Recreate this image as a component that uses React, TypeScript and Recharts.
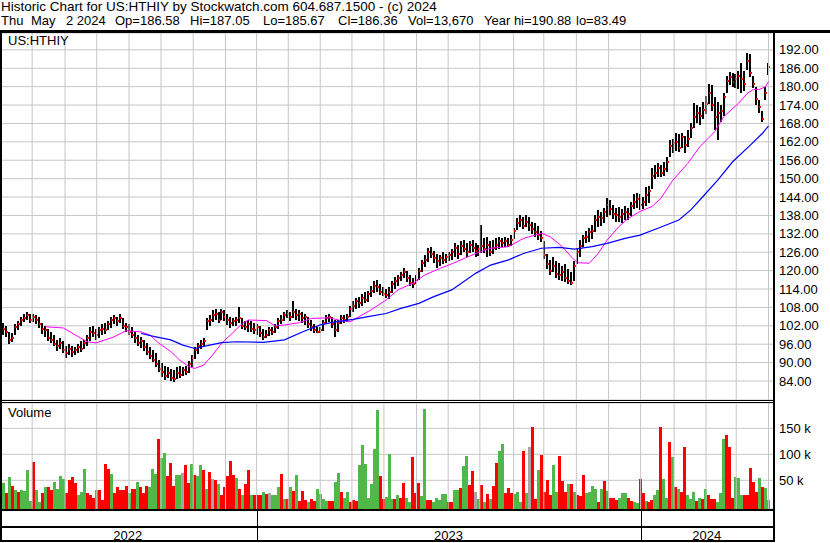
import { Bar, CartesianGrid, ComposedChart, Line, ReferenceLine, XAxis, YAxis } from "recharts";

// one bar per two sessions, May 2022 .. May 2 2024
const highs = [
  103, 102, 100, 99.5, 102.5, 103.5, 105, 106, 106.5, 106,
  106, 105.5, 105, 103, 102, 101, 100, 99, 97.5, 98,
  97, 95.5, 96, 95.5, 95, 96, 97, 97.5, 99, 101.5,
  102, 101, 101.5, 102.5, 103, 103.5, 105, 105.5, 105, 106,
  104.5, 103, 102.5, 101.5, 100, 99, 98.5, 97.5, 96.5, 95,
  94, 93, 91, 90, 89, 88.5, 88, 87.5, 88.5, 89,
  88.5, 89, 90.5, 92.5, 95, 96.5, 97.5, 98, 104.5, 105.5,
  107, 107.5, 106.5, 107.5, 107, 106, 105, 104.5, 105, 108.2,
  104.5, 103.5, 104, 103.5, 103, 102.5, 102, 101, 100.5, 101.5,
  101.5, 102.5, 104.5, 105.5, 106.5, 107, 106.5, 110, 107.5, 107,
  106.5, 106, 105, 104, 102.5, 101.5, 101.5, 104, 105.5, 106,
  105, 104, 104, 105.5, 105.5, 106, 108.5, 110, 111, 111.5,
  112.5, 113, 113.5, 115, 116.5, 117, 115.5, 114.5, 114, 114.5,
  116.5, 118, 118.5, 119.5, 120.8, 120, 118.5, 117.5, 118.5, 121,
  123.5, 125, 127.5, 127.7, 126.5, 125.5, 125, 126, 125.5, 126,
  127, 129, 128.5, 129.5, 130, 129, 129.5, 130, 129, 128.5,
  135, 130.5, 131, 129.5, 130, 130.5, 131, 130.5, 131, 130.5,
  131.5, 134, 137, 138, 137.5, 138, 137.5, 136, 135.5, 134.5,
  133, 129.5, 125.5, 123.5, 124.4, 123, 122.5, 121.5, 122, 120.5,
  119.5, 123, 127, 130, 131.5, 133, 134, 135, 138, 139.7,
  139, 140.5, 143.7, 143, 141.5, 140.5, 140.7, 140, 141, 140.5,
  142.5, 145, 145.3, 145, 144, 147.3, 147.5, 153.5, 154.5, 155,
  154.5, 155.5, 157, 162.5, 163, 165, 164.5, 165, 164, 166,
  168, 174.6, 174, 173.5, 175, 177, 181, 180.5, 176.6, 175,
  174, 178, 183.5, 184.8, 184.5, 184, 185, 187.7, 185, 190.9,
  190.5, 183.5, 180, 175.6, 172, 180, 187.7,
];

const lows = [
  99, 98.5, 96, 96.5, 99, 100.5, 102, 103.5, 104, 103,
  103.5, 102.5, 101.5, 99.5, 98.5, 97, 96.5, 95.5, 94, 94.5,
  93, 91.5, 92.5, 92, 92.5, 93, 93.5, 94.5, 95.5, 97,
  98.5, 97.5, 98, 99, 99.5, 100.5, 101.5, 102.5, 102, 103,
  101, 100, 99, 98, 96.5, 95.5, 95, 94, 92.5, 91,
  90, 88.5, 87, 85.5, 84.5, 85, 84, 83.5, 84.5, 85,
  85.5, 86, 86.5, 88.5, 91, 93, 94.5, 95, 100.5, 102,
  103, 104, 103, 104, 103.5, 102.5, 101.5, 102, 102, 103,
  101, 100.5, 100, 100, 99.5, 99, 98.5, 97.5, 98, 98.5,
  99, 99.5, 101, 102.5, 103.5, 104.5, 103.5, 104.5, 104, 103.5,
  103, 102.5, 101.5, 100.5, 99.5, 99.5, 99.5, 100.5, 102.5, 103.5,
  101.5, 98.4, 100, 102.5, 103, 103.5, 105, 106.5, 107.5, 108,
  108.5, 109.5, 110, 111.5, 112.5, 113, 112, 111.5, 111, 110.5,
  112.5, 114, 115, 116.5, 117.5, 116.5, 115, 114.3, 115.5, 117,
  119.5, 121, 123, 124, 122.5, 121, 121.5, 122, 122.5, 123,
  123.5, 124.5, 124, 125, 126, 124.5, 125.5, 126, 124.5, 125,
  126, 125.5, 124.5, 124.5, 125.5, 126.5, 127, 127.5, 127.7, 127.5,
  128, 130.5, 133, 134, 133.5, 134, 133, 132, 131, 130,
  129.5, 123.5, 120.5, 118.5, 119.5, 117.5, 117, 116.5, 116, 115.5,
  115.3, 116.5, 122, 124.5, 127.5, 129, 129.5, 130.5, 132.5, 134,
  134.5, 135.5, 137.5, 138, 137, 136, 135.8, 135.5, 136.5, 136.5,
  138, 140, 140.5, 139.7, 140, 141, 142, 146.5, 150, 150.5,
  150.5, 151, 152, 157, 158.3, 159, 158.6, 160, 158.6, 160.5,
  163, 166.5, 168, 167.5, 169.5, 171, 174.6, 172, 165.8, 162.6,
  168.5, 170.5, 178, 180.5, 180, 179.5, 179, 177.9, 178.5, 185.5,
  183, 179.5, 174, 171.4, 168.5, 175.6, 183.8,
];

const closes = [
  101, 100, 97.5, 98, 101.5, 102.5, 104, 104.5, 105.5, 104,
  105, 104, 102.5, 101, 100.5, 98, 97.5, 96, 95.5, 96.5,
  94, 93, 94.5, 93.5, 94, 95, 94.5, 96.5, 98, 100,
  99.5, 99, 100.5, 101, 100.5, 102.5, 104, 104.5, 103.5, 104.5,
  102, 101.5, 100, 99, 98, 96.5, 97, 95, 93.5, 92,
  91, 89.5, 88, 87, 85.5, 86.5, 85, 84.5, 86.5, 86,
  87.5, 87, 89.5, 91.5, 94, 95.5, 96, 97, 103.5, 104,
  105.5, 106, 104, 106.5, 105, 104, 103, 103.5, 104, 104.5,
  102, 101.5, 102.5, 101, 100.5, 101.5, 99.5, 98.5, 99, 100.5,
  100, 101.5, 103.5, 104, 105.5, 106, 105, 106.5, 105.5, 106,
  104.5, 105, 102.5, 101.5, 100.5, 100, 100.5, 103, 104.5, 105,
  102.5, 100.5, 103, 104.5, 104, 105, 107.5, 108.5, 110, 109.5,
  111, 110.5, 112.5, 113.5, 115, 114.5, 113, 112.5, 112, 113,
  115.5, 116.5, 117.5, 118.5, 119.5, 117.5, 116, 115.5, 117, 120,
  122.5, 123.5, 126, 125.5, 124, 123, 124, 123.5, 124.5, 125,
  126, 127.5, 125.5, 128, 127, 126, 128.5, 127.5, 126.5, 127,
  128, 127, 128.5, 126, 127.5, 128.5, 129.5, 129, 129.5, 128.5,
  130, 133, 135.5, 136.5, 134.5, 136, 135, 133.5, 132.5, 131.5,
  130.5, 125, 122, 120, 121.5, 119, 118.5, 119.5, 117.5, 116.5,
  116, 121.5, 126, 128, 130.5, 131, 132.5, 133, 136.5, 137.5,
  137, 139, 141.5, 140, 138.5, 138, 137.5, 138.5, 139, 138.5,
  141, 142.5, 143.5, 141.5, 142.5, 144.5, 146, 151, 152, 153.5,
  152, 153, 155.5, 160.5, 161.5, 162, 160, 163.5, 161, 163,
  166.5, 170, 171.5, 170.5, 172.5, 174.5, 178, 174, 170, 171.5,
  172, 176.5, 182, 183, 181.5, 182.5, 183.5, 182.5, 181, 188.5,
  184.5, 181, 176, 173.5, 169.5, 178, 186.36,
];

// thousands of shares; tone g = up, r = down, n = unchanged
const volumes = [
  44, 25, 56, 40, 32, 28, 31, 30, 70, 10,
  86, 32, 9, 25, 37, 37, 31, 47, 34, 58,
  52, 25, 50, 56, 44, 22, 27, 72, 25, 22,
  15, 32, 32, 12, 81, 72, 63, 25, 37, 31,
  31, 40, 25, 34, 34, 47, 37, 25, 40, 37,
  72, 63, 130, 92, 103, 58, 84, 40, 61, 61,
  64, 80, 44, 82, 60, 58, 79, 69, 34, 66,
  52, 50, 42, 22, 37, 58, 88, 60, 54, 34,
  22, 42, 69, 22, 22, 22, 22, 28, 23, 25,
  22, 21, 37, 63, 14, 14, 37, 29, 60, 10,
  29, 12, 9, 14, 10, 33, 23, 14, 10, 10,
  10, 47, 64, 28, 15, 28, 9, 12, 11, 80,
  117, 81, 15, 42, 110, 185, 58, 14, 18, 100,
  14, 14, 22, 16, 45, 16, 9, 95, 25, 45,
  20, 188, 12, 12, 9, 16, 12, 23, 23, 8,
  8, 31, 31, 36, 78, 97, 41, 68, 28, 14,
  41, 9, 23, 14, 40, 83, 107, 120, 25, 36,
  25, 23, 28, 9, 107, 25, 115, 152, 14, 70,
  98, 27, 50, 22, 80, 28, 97, 49, 28, 42,
  42, 28, 22, 19, 60, 25, 28, 40, 33, 9,
  34, 49, 30, 15, 15, 12, 15, 25, 25, 15,
  10, 9, 7, 53, 25, 10, 9, 12, 22, 31,
  152, 52, 15, 124, 95, 37, 34, 28, 114, 22,
  14, 28, 10, 15, 14, 33, 22, 14, 14, 9,
  25, 129, 138, 115, 15, 56, 55, 22, 22, 22,
  73, 47, 28, 55, 38, 35, 12,
];

const volumeTones = (
  "grgrgrgggg" + "rggrgrrggg" + "grrrrgggrr" + "rgrrrrgrrr" + "rrgrrgrrrg" +
  "ggrggrrrgg" + "nrrgrggrgr" + "nrgrrrrrgr" + "grrgrrrgrn" + "gggrgrgrgr" +
  "rrgrrggggr" + "rggrggrrrg" + "ggggggrrgg" + "grgrrggrrr" + "ggrrgggggr" +
  "rggrggrrng" + "rgrgrrggrr" + "rgggrgnrrg" + "rrrrggrrrg" + "rgrrrggggr" +
  "grgrrrgggr" + "rggrrgrrgg" + "rggrgrgrrg" + "ggrgrgrrrg" + "ggrrrgggrr" +
  "rrrgrgg"
).split("");

// [bar, value]
const fastMa = [
  [14, 101.7], [20, 101.3], [28, 96.8], [31, 96.4], [37, 98.4], [41, 100.4], [46, 100], [49, 99],
  [52, 96.3], [56, 93.6], [59, 90.8], [62, 88.7], [64, 88.1], [67, 89.2], [70, 92.5], [73, 96.3],
  [77, 100], [80, 102.8], [82, 103.9], [88, 103.7], [91, 101.9], [94, 102.3], [99, 103], [103, 104.4],
  [109, 104.6], [113, 103.7], [116, 103.3], [119, 105], [123, 107.2], [128, 110.4], [132, 113.7],
  [137, 115.9], [141, 118.6], [146, 120.7], [150, 122.2], [158, 125.6], [163, 127.3], [169, 127.8],
  [174, 130.5], [180, 132.2], [183, 131], [187, 127.8], [190, 124.5], [192, 122.6], [196, 122.4],
  [199, 125.6], [202, 130], [206, 134.4], [209, 137], [213, 139.3], [217, 140.9], [220, 143.6],
  [224, 149.5], [229, 155], [233, 160.4], [238, 165.3], [241, 170.2], [246, 174.6], [249, 177.9],
  [251, 179.1], [253, 179.1], [255, 180], [256, 181.6],
];

const slowMa = [
  [46, 99.5], [51, 98.4], [56, 97.4], [60, 95.7], [64, 94.6], [69, 95.7], [73, 96.5], [78, 96.8],
  [87, 96.6], [94, 97.4], [100, 100], [106, 102.3], [111, 103.3], [117, 104.1], [122, 105],
  [128, 106], [133, 107.7], [139, 109.3], [144, 111.5], [150, 113.7], [158, 119.1], [163, 121.8],
  [169, 123.5], [174, 125.6], [180, 127.3], [186, 127.6], [191, 127], [197, 127.8], [202, 128.9],
  [208, 130.5], [213, 131.6], [219, 133.8], [226, 136.5], [230, 139.8], [234, 144.1], [239, 149.5],
  [244, 155.5], [250, 161], [254, 164.8], [256, 167.2],
];

const priceTicks = [84, 90, 96, 102, 108, 114, 120, 126, 132, 138, 144, 150, 156, 162, 168, 174, 180, 186, 192];
const volumeTicks = [50, 100, 150];
const monthStarts = [9.6, 20.6, 31.2, 42, 52.7, 63.5, 74.3, 84.7, 95.3, 106, 116.6, 127.3, 138.2, 148.8, 159.4, 170.7, 180.8, 191.7, 202.5, 213.2, 224.4, 235.1, 245.2, 256];
const yearStarts = [84.7, 213.2];
const yearMids = [41.6, 148.9, 235.3];
const yearLabels = ["2022", "2023", "2024"];

const FONT = 'Arial, "Liberation Sans", sans-serif';
const X_DOMAIN: [number, number] = [-0.5, 257.5];
const AXIS_W = 57;
const PRICE_H = 367;
const VOL_PLOT_H = 106;
const VOL_AXIS_H = 33;
const GRID = "#c6c6c6";
const toneColor: Record<string, string> = { g: "#4fb848", r: "#ff0000", n: "#a6a6a6" };

const rows = closes.map((close, i) => ({
  i,
  high: highs[i],
  low: lows[i],
  close,
  vol: volumes[i],
  tone: volumeTones[i],
  fast: null as number | null,
  slow: null as number | null,
}));
fastMa.forEach(([i, v]) => (rows[i].fast = v));
slowMa.forEach(([i, v]) => (rows[i].slow = v));

function PriceBar(props: any) {
  const { x, y, width, height, payload } = props;
  if (x == null || y == null) return null;
  const cx = Math.round(x + width / 2) - 1;
  const span = payload.high - payload.low || 1;
  const cy = y + ((payload.high - payload.close) / span) * height;
  return (
    <g>
      <rect x={cx} y={Math.round(y)} width={2} height={Math.max(1, Math.round(height))} fill="#000" />
      <rect x={cx + 1} y={Math.round(cy) - 1} width={2} height={2} fill="#ff0000" />
    </g>
  );
}

function VolumeBar(props: any) {
  const { x, y, width, payload } = props;
  if (x == null || y == null) return null;
  const top = Math.round(y);
  return <rect x={Math.round(x)} y={top} width={Math.round(width)} height={VOL_PLOT_H - top} fill={toneColor[payload.tone]} />;
}

function YearTick(props: any) {
  const { x, y, payload } = props;
  if (yearStarts.includes(payload.value)) {
    const px = Math.round(x) + 0.5;
    return <line x1={px} x2={px} y1={y + 2} y2={y + 31} stroke="#000" strokeWidth={1} />;
  }
  const j = yearMids.indexOf(payload.value);
  return (
    <text x={x} y={y + 30.5} textAnchor="middle" fontSize={13} fontFamily={FONT} fill="#000">
      {yearLabels[j]}
    </text>
  );
}

const tickStyle = { fill: "#000", fontSize: 13, fontFamily: FONT };

const box = (left: number, top: number, width: number, height: number) => (
  <div style={{ position: "absolute", left, top, width, height, background: "#000" }} />
);

const label = (text: string, left: number, top: number, size = 13) => (
  <div style={{ position: "absolute", left, top, fontSize: size, lineHeight: "15px", whiteSpace: "pre", color: "#000" }}>{text}</div>
);

export default function App() {
  return (
    <div style={{ position: "absolute", left: 0, top: 0, width: 830, height: 543, background: "#fff", fontFamily: FONT, overflow: "hidden" }}>
      <div style={{ position: "absolute", left: 0, top: 33 }}>
        <ComposedChart width={830} height={PRICE_H} data={rows} margin={{ top: 0, right: 0, bottom: 0, left: 2 }}>
          <CartesianGrid vertical={false} stroke={GRID} />
          <XAxis type="number" dataKey="i" domain={X_DOMAIN} hide allowDataOverflow />
          <YAxis
            orientation="right"
            width={AXIS_W}
            domain={[77.8, 197.5]}
            ticks={priceTicks}
            interval={0}
            allowDataOverflow
            axisLine={false}
            tickLine={false}
            tickSize={0}
            tickMargin={6}
            tick={tickStyle}
            tickFormatter={(v: number) => v.toFixed(2)}
          />
          {monthStarts.map((m) => (
            <ReferenceLine key={m} x={m} stroke={GRID} />
          ))}
          <Bar dataKey={(d: any) => [d.low, d.high]} barSize={3} shape={<PriceBar />} isAnimationActive={false} />
          <Line dataKey="fast" stroke="#ff00ff" strokeWidth={1} dot={false} connectNulls isAnimationActive={false} />
          <Line dataKey="slow" stroke="#0000ff" strokeWidth={1.2} dot={false} connectNulls isAnimationActive={false} />
        </ComposedChart>
      </div>

      <div style={{ position: "absolute", left: 0, top: 403 }}>
        <ComposedChart width={830} height={VOL_PLOT_H + VOL_AXIS_H} data={rows} margin={{ top: 0, right: 0, bottom: 0, left: 2 }}>
          <CartesianGrid vertical={false} stroke={GRID} />
          <XAxis
            type="number"
            dataKey="i"
            domain={X_DOMAIN}
            allowDataOverflow
            ticks={[...yearStarts, ...yearMids]}
            interval={0}
            height={VOL_AXIS_H}
            axisLine={false}
            tickLine={false}
            tickSize={0}
            tickMargin={0}
            tick={(p: any) => <YearTick {...p} />}
          />
          <YAxis
            orientation="right"
            width={AXIS_W}
            domain={[-5.2, 198.7]}
            ticks={volumeTicks}
            interval={0}
            allowDataOverflow
            axisLine={false}
            tickLine={false}
            tickSize={0}
            tickMargin={6}
            tick={tickStyle}
            tickFormatter={(v: number) => `${v} k`}
          />
          {monthStarts.map((m) => (
            <ReferenceLine key={m} x={m} stroke={GRID} />
          ))}
          <Bar dataKey="vol" barSize={3} shape={<VolumeBar />} isAnimationActive={false} />
        </ComposedChart>
      </div>

      {label("Historic Chart for US:HTHIY by Stockwatch.com 604.687.1500 - (c) 2024", 1, -1, 13.5)}
      {label("Thu", 1, 13)}
      {label("May", 31, 13)}
      {label("2 2024", 66, 13)}
      {label("Op=186.58", 115, 13)}
      {label("Hi=187.05", 190, 13)}
      {label("Lo=185.67", 263, 13)}
      {label("Cl=186.36", 338, 13)}
      {label("Vol=13,670", 408, 13)}
      {label("Year hi=190.88", 484, 13)}
      {label("lo=83.49", 576, 13)}
      {label("US:HTHIY", 8, 33)}
      {label("Volume", 8, 405)}

      {box(0, 30, 830, 3)}
      {box(0, 33, 2, 509)}
      {box(773, 33, 2, 509)}
      {box(0, 400, 773, 1)}
      {box(0, 402, 773, 1)}
      {box(0, 509, 775, 2)}
      {box(0, 526, 775, 2)}
      {box(0, 540, 775, 2)}
    </div>
  );
}
